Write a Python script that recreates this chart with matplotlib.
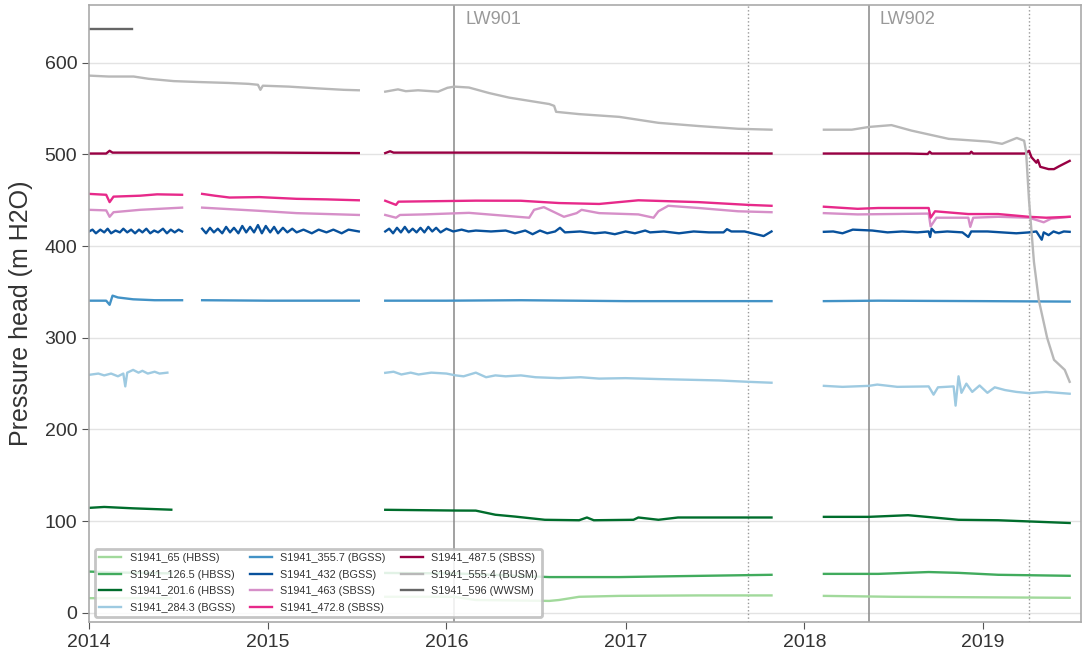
import numpy as np
import pandas as pd
import matplotlib
matplotlib.use('Agg')
import matplotlib.pyplot as plt
import matplotlib.dates as mdates

plt.rcParams['font.family'] = ['Liberation Sans', 'DejaVu Sans']

# (date, pressure head) readings; None marks a gap in the record
s65 = [('2014-01-01', 16), ('2014-06-18', 16), ('2015-01-01', None),
       ('2015-08-29', 17.5), ('2016-01-17', 17.5), ('2016-03-01', 14), ('2016-07-29', 13),
       ('2016-08-18', 14), ('2016-09-28', 17.5), ('2016-12-19', 18.5), ('2017-05-30', 19),
       ('2017-10-26', 19), ('2017-12-15', None),
       ('2018-02-10', 18.5), ('2018-07-01', 17.5), ('2019-06-27', 16.4)]

s126_5 = [('2014-01-01', 45), ('2014-03-01', 44), ('2014-06-18', 43), ('2015-01-01', None),
          ('2015-08-29', 43.5), ('2016-01-17', 43), ('2016-04-01', 41.5), ('2016-07-29', 39),
          ('2016-12-19', 39), ('2017-04-18', 40), ('2017-10-26', 41.5), ('2017-12-15', None),
          ('2018-02-10', 42.5), ('2018-06-01', 42.5), ('2018-09-12', 44.5), ('2018-11-12', 43.6),
          ('2019-02-01', 41.5), ('2019-06-27', 40.4)]

s201_6 = [('2014-01-01', 114.5), ('2014-02-01', 115.5), ('2014-04-01', 114), ('2014-06-18', 112.5),
          ('2015-01-01', None),
          ('2015-08-29', 112.4), ('2016-01-17', 111.6), ('2016-03-01', 111.5), ('2016-04-10', 107),
          ('2016-05-20', 105), ('2016-07-20', 101.5), ('2016-09-28', 101), ('2016-10-14', 104),
          ('2016-10-28', 101), ('2017-01-17', 101.5), ('2017-01-27', 104), ('2017-03-09', 101.5),
          ('2017-04-18', 104), ('2017-10-26', 104), ('2017-12-15', None),
          ('2018-02-10', 104.7), ('2018-05-13', 104.7), ('2018-08-01', 106.5), ('2018-09-12', 104.5),
          ('2018-11-12', 101.5), ('2019-02-01', 101), ('2019-06-27', 98)]

s284_3 = [('2014-01-01', 259.6), ('2014-01-20', 261), ('2014-02-01', 259), ('2014-02-15', 261),
          ('2014-03-01', 258), ('2014-03-12', 261), ('2014-03-16', 247), ('2014-03-20', 262),
          ('2014-04-01', 265), ('2014-04-12', 262), ('2014-04-20', 264), ('2014-05-01', 261),
          ('2014-05-15', 263), ('2014-05-25', 261), ('2014-06-10', 262), ('2015-01-01', None),
          ('2015-08-29', 261.8), ('2015-09-15', 263), ('2015-10-01', 260), ('2015-10-20', 262),
          ('2015-11-05', 260), ('2015-12-01', 262), ('2016-01-01', 261), ('2016-01-20', 259),
          ('2016-02-05', 258), ('2016-03-01', 262), ('2016-03-22', 257), ('2016-04-10', 259),
          ('2016-05-01', 258), ('2016-06-01', 259), ('2016-07-01', 257), ('2016-08-18', 256),
          ('2016-10-01', 257), ('2016-11-08', 255.5), ('2017-01-01', 256), ('2017-03-09', 255),
          ('2017-05-30', 254), ('2017-07-10', 253.5), ('2017-09-08', 252), ('2017-10-26', 251),
          ('2017-12-15', None),
          ('2018-02-10', 247.6), ('2018-03-20', 246.5), ('2018-05-13', 247.6), ('2018-05-30', 249),
          ('2018-07-10', 246.5), ('2018-09-12', 247), ('2018-09-22', 238), ('2018-10-01', 246),
          ('2018-11-02', 247), ('2018-11-06', 226), ('2018-11-12', 258), ('2018-11-18', 240),
          ('2018-11-28', 250), ('2018-12-10', 241), ('2018-12-25', 248), ('2019-01-10', 240),
          ('2019-01-25', 246), ('2019-02-15', 243), ('2019-03-10', 241), ('2019-04-05', 239.6),
          ('2019-05-10', 241), ('2019-06-27', 239)]

s355_7 = [('2014-01-01', 340.5), ('2014-02-05', 340.5), ('2014-02-12', 336), ('2014-02-18', 346),
          ('2014-03-01', 344), ('2014-04-01', 342), ('2014-05-15', 341), ('2014-07-10', 341),
          ('2014-08-01', None),
          ('2014-08-20', 341), ('2015-01-01', 340.5), ('2015-07-06', 340.5), ('2015-08-01', None),
          ('2015-08-29', 340.5), ('2016-01-01', 340.5), ('2016-06-01', 341), ('2017-01-01', 340),
          ('2017-10-26', 340), ('2017-12-15', None),
          ('2018-02-10', 340), ('2018-06-01', 340.5), ('2019-01-01', 340), ('2019-06-27', 339.5)]

s432 = [('2014-01-01', 416), ('2014-01-08', 418), ('2014-01-15', 414), ('2014-01-24', 418),
        ('2014-02-01', 415), ('2014-02-08', 419), ('2014-02-15', 414), ('2014-02-24', 417),
        ('2014-03-05', 415), ('2014-03-12', 419), ('2014-03-20', 415), ('2014-03-28', 418),
        ('2014-04-05', 414), ('2014-04-13', 418), ('2014-04-20', 415), ('2014-04-28', 419),
        ('2014-05-06', 414), ('2014-05-14', 417), ('2014-05-22', 415), ('2014-06-01', 419),
        ('2014-06-09', 414), ('2014-06-17', 418), ('2014-06-25', 415), ('2014-07-03', 418),
        ('2014-07-10', 416), ('2014-08-01', None),
        ('2014-08-20', 419), ('2014-08-28', 414), ('2014-09-05', 420), ('2014-09-13', 415),
        ('2014-09-21', 419), ('2014-09-30', 414), ('2014-10-08', 421), ('2014-10-16', 415),
        ('2014-10-24', 420), ('2014-11-02', 414), ('2014-11-10', 422), ('2014-11-18', 415),
        ('2014-11-26', 421), ('2014-12-04', 415), ('2014-12-12', 423), ('2014-12-20', 414),
        ('2014-12-28', 422), ('2015-01-06', 415), ('2015-01-14', 421), ('2015-01-22', 414),
        ('2015-02-01', 420), ('2015-02-10', 415), ('2015-02-20', 419), ('2015-03-01', 415),
        ('2015-03-15', 418), ('2015-04-01', 414), ('2015-04-15', 418), ('2015-05-01', 415),
        ('2015-05-15', 418), ('2015-06-01', 414), ('2015-06-15', 418), ('2015-07-06', 416),
        ('2015-08-01', None),
        ('2015-08-29', 416), ('2015-09-06', 419), ('2015-09-14', 414), ('2015-09-22', 420),
        ('2015-09-30', 415), ('2015-10-08', 421), ('2015-10-16', 415), ('2015-10-24', 419),
        ('2015-11-01', 415), ('2015-11-09', 420), ('2015-11-17', 415), ('2015-11-25', 421),
        ('2015-12-03', 416), ('2015-12-11', 420), ('2015-12-20', 415), ('2016-01-01', 419),
        ('2016-01-15', 416), ('2016-02-01', 418), ('2016-02-15', 416), ('2016-03-01', 417),
        ('2016-04-01', 416), ('2016-05-01', 417), ('2016-05-20', 414), ('2016-06-10', 417),
        ('2016-06-25', 413), ('2016-07-10', 417), ('2016-07-25', 414), ('2016-08-10', 416),
        ('2016-08-20', 420), ('2016-08-30', 415), ('2016-09-30', 416), ('2016-10-30', 414),
        ('2016-11-20', 415), ('2016-12-10', 413), ('2017-01-01', 416), ('2017-01-20', 414),
        ('2017-02-10', 417), ('2017-02-20', 415), ('2017-03-20', 416), ('2017-04-20', 414),
        ('2017-05-20', 416), ('2017-06-20', 415), ('2017-07-20', 415), ('2017-07-27', 418.5),
        ('2017-08-05', 416), ('2017-09-01', 416), ('2017-10-10', 411), ('2017-10-26', 416),
        ('2017-12-15', None),
        ('2018-02-10', 415.6), ('2018-03-01', 416), ('2018-03-20', 414), ('2018-04-10', 418),
        ('2018-05-20', 417), ('2018-06-20', 415), ('2018-07-20', 416), ('2018-08-20', 415),
        ('2018-09-12', 416), ('2018-09-15', 410), ('2018-09-18', 419), ('2018-09-25', 415),
        ('2018-10-20', 416), ('2018-11-20', 415), ('2018-12-02', 410), ('2018-12-08', 416),
        ('2019-01-10', 416), ('2019-02-10', 415), ('2019-03-10', 414), ('2019-04-05', 415),
        ('2019-04-20', 416), ('2019-05-01', 407), ('2019-05-05', 415), ('2019-05-15', 412),
        ('2019-05-25', 416), ('2019-06-05', 414), ('2019-06-15', 416), ('2019-06-27', 415.6)]

s463 = [('2014-01-01', 439.6), ('2014-02-05', 439), ('2014-02-12', 432), ('2014-02-20', 437),
        ('2014-04-15', 439.6), ('2014-07-10', 442), ('2014-08-01', None),
        ('2014-08-20', 442), ('2014-12-15', 438.5), ('2015-03-01', 436), ('2015-07-06', 434),
        ('2015-08-01', None),
        ('2015-08-29', 434), ('2015-09-20', 431), ('2015-09-28', 434), ('2015-11-15', 434.6),
        ('2016-02-16', 436.3), ('2016-06-18', 431), ('2016-06-28', 439.6), ('2016-07-18', 442.5),
        ('2016-08-28', 432), ('2016-09-23', 436), ('2016-10-03', 439.6), ('2016-11-08', 436),
        ('2017-01-27', 434.6), ('2017-02-27', 431), ('2017-03-09', 438), ('2017-03-29', 444),
        ('2017-05-30', 441.6), ('2017-08-19', 438), ('2017-10-26', 437), ('2017-12-15', None),
        ('2018-02-10', 436), ('2018-04-20', 434.6), ('2018-09-12', 435.5), ('2018-09-16', 421.5),
        ('2018-09-28', 431), ('2018-12-02', 431), ('2018-12-06', 421), ('2018-12-12', 431),
        ('2019-02-01', 432), ('2019-04-05', 431), ('2019-05-05', 426), ('2019-05-20', 430),
        ('2019-06-27', 432)]

s472_8 = [('2014-01-01', 457), ('2014-02-05', 456), ('2014-02-12', 448), ('2014-02-20', 454),
          ('2014-04-15', 455), ('2014-05-20', 456.5), ('2014-07-10', 456), ('2014-08-01', None),
          ('2014-08-20', 457), ('2014-09-15', 455), ('2014-10-15', 453), ('2014-12-15', 453.5),
          ('2015-03-01', 451.6), ('2015-05-01', 451), ('2015-07-06', 450), ('2015-08-01', None),
          ('2015-08-29', 449.5), ('2015-09-20', 445), ('2015-09-25', 448.5), ('2016-03-01', 449.6),
          ('2016-06-01', 449.5), ('2016-08-18', 447), ('2016-11-08', 446), ('2017-01-27', 450),
          ('2017-05-30', 448), ('2017-09-08', 445), ('2017-10-26', 444), ('2017-12-15', None),
          ('2018-02-10', 443), ('2018-04-20', 440.7), ('2018-06-01', 441.6), ('2018-09-12', 441.6),
          ('2018-09-16', 431), ('2018-09-25', 438), ('2018-12-02', 435), ('2019-02-01', 435),
          ('2019-04-05', 432), ('2019-05-10', 431), ('2019-06-27', 432)]

s487_5 = [('2014-01-01', 501), ('2014-02-05', 501), ('2014-02-12', 504), ('2014-02-18', 502),
          ('2014-06-01', 502), ('2015-01-01', 502), ('2015-07-06', 501.5), ('2015-08-01', None),
          ('2015-08-29', 501.5), ('2015-09-08', 503.5), ('2015-09-15', 502), ('2016-06-01', 502),
          ('2017-01-01', 501.5), ('2017-10-26', 501), ('2017-12-15', None),
          ('2018-02-10', 501), ('2018-08-01', 501), ('2018-09-10', 500.5), ('2018-09-14', 503),
          ('2018-09-18', 501), ('2018-12-05', 501), ('2018-12-08', 503), ('2018-12-12', 501),
          ('2019-03-28', 501), ('2019-04-05', 504), ('2019-04-10', 497), ('2019-04-20', 491),
          ('2019-04-23', 494), ('2019-04-28', 486.5), ('2019-05-15', 484), ('2019-05-26', 484),
          ('2019-06-05', 487), ('2019-06-27', 493)]

s555_4 = [('2014-01-01', 586), ('2014-02-10', 585), ('2014-04-02', 585), ('2014-05-03', 582.5),
          ('2014-06-23', 580), ('2014-08-13', 579), ('2014-10-13', 578), ('2014-11-23', 577),
          ('2014-12-12', 576), ('2014-12-17', 570.5), ('2014-12-22', 575), ('2015-02-13', 574),
          ('2015-04-15', 572), ('2015-06-05', 570.5), ('2015-07-06', 570), ('2015-08-01', None),
          ('2015-08-29', 568.5), ('2015-09-24', 571), ('2015-10-10', 569), ('2015-11-04', 570),
          ('2015-12-15', 568.5), ('2016-01-03', 572.7), ('2016-01-17', 574), ('2016-02-16', 573),
          ('2016-03-28', 567), ('2016-05-08', 562), ('2016-06-18', 558.5), ('2016-07-29', 555),
          ('2016-08-08', 553), ('2016-08-12', 546.5), ('2016-09-28', 544), ('2016-12-19', 541),
          ('2017-03-09', 534.5), ('2017-05-30', 531), ('2017-08-19', 528), ('2017-10-26', 527),
          ('2017-12-15', None),
          ('2018-02-10', 527), ('2018-04-08', 527), ('2018-05-13', 530), ('2018-06-28', 532),
          ('2018-08-08', 526), ('2018-10-23', 517), ('2019-01-13', 514), ('2019-02-09', 511.6),
          ('2019-03-11', 518), ('2019-03-26', 515), ('2019-03-30', 503), ('2019-04-05', 450),
          ('2019-04-15', 383), ('2019-04-25', 341), ('2019-05-12', 300), ('2019-05-26', 276),
          ('2019-06-17', 265), ('2019-06-27', 252)]

s596 = [('2014-01-01', 637), ('2014-03-29', 637)]

series = [s65, s126_5, s201_6, s284_3, s355_7, s432, s463, s472_8, s487_5, s555_4, s596]
labels = ['S1941_65 (HBSS)', 'S1941_126.5 (HBSS)', 'S1941_201.6 (HBSS)', 'S1941_284.3 (BGSS)',
          'S1941_355.7 (BGSS)', 'S1941_432 (BGSS)', 'S1941_463 (SBSS)', 'S1941_472.8 (SBSS)',
          'S1941_487.5 (SBSS)', 'S1941_555.4 (BUSM)', 'S1941_596 (WWSM)']
colors = ['#a1d99b', '#41ab5d', '#006d2c', '#9ecae1', '#4292c6', '#08519c',
          '#d68fc8', '#e7298a', '#980043', '#b8b8b8', '#666666']

events = ['2016-01-17', '2018-05-13']
event_labels = ['LW901', 'LW902']
event_ends = ['2017-09-07', '2019-04-05']

fig, ax = plt.subplots(figsize=(10.82, 6.52), dpi=100)
fig.subplots_adjust(left=0.0823, right=0.999, top=0.9923, bottom=0.046)

for s, lab, c in zip(series, labels, colors):
    t = pd.to_datetime([d for d, v in s])
    v = np.array([np.nan if v is None else v for d, v in s], dtype=float)
    ax.plot(t, v, color=c, lw=1.7, label=lab)

for d, lab in zip(events, event_labels):
    ax.axvline(pd.Timestamp(d), color='#888888', lw=1.1, zorder=1)
    ax.text(pd.Timestamp(d) + pd.Timedelta(days=22), 657, lab, color='#999999',
            fontsize=13, va='top', ha='left')
for d in event_ends:
    ax.axvline(pd.Timestamp(d), color='#999999', lw=1, ls=':', zorder=1)

ax.set_xlim(pd.Timestamp('2014-01-01'), pd.Timestamp('2019-07-20'))
ax.set_ylim(-10, 663)
ax.set_yticks(np.arange(0, 601, 100))
ax.xaxis.set_major_locator(mdates.YearLocator())
ax.xaxis.set_major_formatter(mdates.DateFormatter('%Y'))
ax.yaxis.grid(True, color='#e3e3e3', lw=1)
ax.set_axisbelow(True)
for sp in ax.spines.values():
    sp.set_color('#aaaaaa')
    sp.set_linewidth(1.2)
ax.tick_params(axis='both', labelsize=14, colors='#333333', length=5, direction='out')
ax.tick_params(axis='both', color='#555555')
ax.set_ylabel('Pressure head (m H2O)', fontsize=18, color='#333333', labelpad=8)

leg = ax.legend(ncol=3, loc='lower left', bbox_to_anchor=(0.006, 0.008), borderaxespad=0,
                fontsize=7.8, handlelength=2.0, framealpha=0.85, edgecolor='#bbbbbb',
                fancybox=True, columnspacing=1.4, labelspacing=0.6, handletextpad=0.8)
leg.get_frame().set_linewidth(2)
for t in leg.get_texts():
    t.set_color('#333333')

fig.savefig('out.png', dpi=100)
